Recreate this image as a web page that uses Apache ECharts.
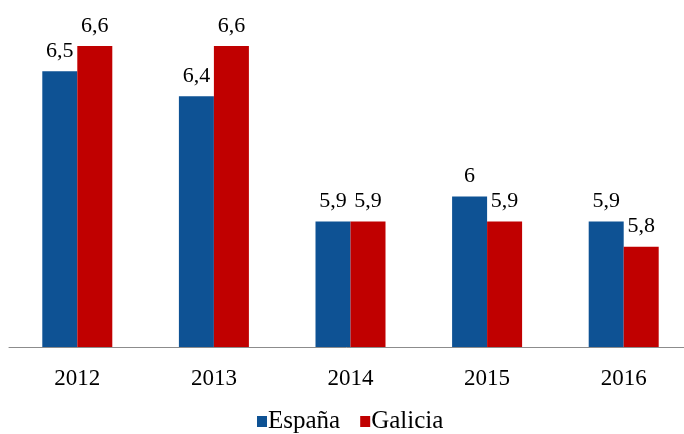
<!DOCTYPE html>
<html><head><meta charset="utf-8">
<script src="https://cdn.jsdelivr.net/npm/echarts@6/dist/echarts.min.js"></script>
<style>html,body{margin:0;padding:0;background:#fff}#c{width:684px;height:434px}</style>
</head><body><div id="c"></div>
<script>
const categories = ['2012','2013','2014','2015','2016'];
const espana = [6.5, 6.4, 5.9, 6.0, 5.9];
const galicia = [6.6, 6.6, 5.9, 5.9, 5.8];
const fmt = p => String(p.value).replace('.', ',');
const font = 'Liberation Serif';
const chart = echarts.init(document.getElementById('c'));
chart.setOption({
  animation: false,
  grid: {left: 9, width: 683, top: 21, bottom: 87, outerBoundsMode: 'none', containLabel: false},
  legend: {
    top: 409, left: 257, itemWidth: 10, itemHeight: 11, itemGap: 20,
    icon: 'rect', padding: 0,
    textStyle: {fontFamily: font, fontSize: 25, color: '#000', padding: [0,0,0,-4]},
    data: ['España', 'Galicia']
  },
  xAxis: {
    type: 'category', data: categories,
    axisLine: {lineStyle: {color: '#8c8c8c', width: 1}},
    axisTick: {show: false},
    axisLabel: {fontFamily: font, fontSize: 23, color: '#000', margin: 20}
  },
  yAxis: {type: 'value', min: 5.4, max: 6.7, show: false, splitLine: {show: false}},
  series: [
    {name: 'España', type: 'bar', data: espana, barWidth: 35, barGap: '0%',
     itemStyle: {color: '#0E5294'},
     label: {show: true, position: 'top', distance: 9, formatter: fmt,
             fontFamily: font, fontSize: 22, color: '#000'}},
    {name: 'Galicia', type: 'bar', data: galicia, barWidth: 35,
     itemStyle: {color: '#C00000'},
     label: {show: true, position: 'top', distance: 9, formatter: fmt,
             fontFamily: font, fontSize: 22, color: '#000'}}
  ]
});
</script></body></html>
